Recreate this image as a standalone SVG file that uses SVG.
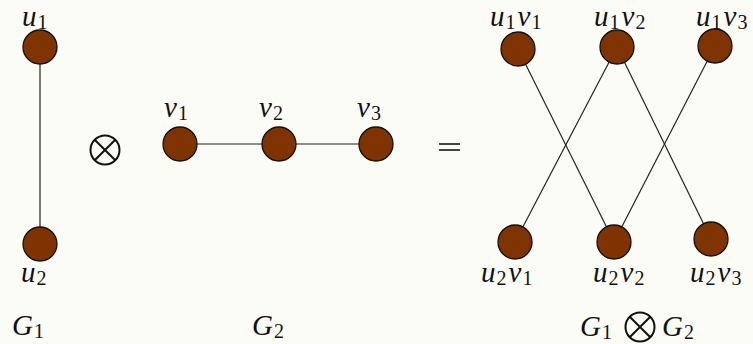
<svg xmlns="http://www.w3.org/2000/svg" width="753" height="344" viewBox="0 0 753 344">
<style>
.n{fill:#7f3300;stroke:#111;stroke-width:1.3}
.e{stroke:#222;stroke-width:1.2;fill:none}
.t{font-family:"Liberation Serif",serif;font-style:italic;font-size:29px;fill:#111}
.s{font-style:normal;font-size:20px}
.op{stroke:#111;stroke-width:2;fill:none}
</style>
<rect width="753" height="344" fill="#fcfcf7"/>
<g id="connectors">
<line class="e" x1="40" y1="47" x2="40" y2="244"/>
<line class="e" x1="180" y1="144" x2="376" y2="144"/>
<line class="e" x1="518" y1="49" x2="614" y2="242"/>
<line class="e" x1="617" y1="47" x2="515" y2="242"/>
<line class="e" x1="617" y1="47" x2="711" y2="239"/>
<line class="e" x1="715" y1="46" x2="614" y2="242"/>
</g>
<g id="u1"><circle class="n" cx="40" cy="47" r="17"/><text class="t" x="22" y="26">u<tspan class="s" dx="1" dy="3">1</tspan></text></g>
<g id="u2"><circle class="n" cx="40" cy="244" r="17"/><text class="t" x="21" y="282">u<tspan class="s" dx="1" dy="3">2</tspan></text></g>
<g id="v1"><circle class="n" cx="180" cy="144" r="17"/><text class="t" x="164" y="117">v<tspan class="s" dx="1" dy="3">1</tspan></text></g>
<g id="v2"><circle class="n" cx="279" cy="144" r="17"/><text class="t" x="259" y="117">v<tspan class="s" dx="1" dy="3">2</tspan></text></g>
<g id="v3"><circle class="n" cx="376" cy="144" r="17"/><text class="t" x="357" y="117">v<tspan class="s" dx="1" dy="3">3</tspan></text></g>
<g id="u1v1"><circle class="n" cx="518" cy="49" r="17"/><text class="t" x="490" y="26">u<tspan class="s" dx="1" dy="3">1</tspan><tspan dx="2" dy="-3">v</tspan><tspan class="s" dx="1" dy="3">1</tspan></text></g>
<g id="u1v2"><circle class="n" cx="617" cy="47" r="17"/><text class="t" x="594" y="26">u<tspan class="s" dx="1" dy="3">1</tspan><tspan dx="2" dy="-3">v</tspan><tspan class="s" dx="1" dy="3">2</tspan></text></g>
<g id="u1v3"><circle class="n" cx="715" cy="46" r="17"/><text class="t" x="696" y="26">u<tspan class="s" dx="1" dy="3">1</tspan><tspan dx="2" dy="-3">v</tspan><tspan class="s" dx="1" dy="3">3</tspan></text></g>
<g id="u2v1"><circle class="n" cx="515" cy="242" r="17"/><text class="t" x="481" y="282">u<tspan class="s" dx="1" dy="3">2</tspan><tspan dx="2" dy="-3">v</tspan><tspan class="s" dx="1" dy="3">1</tspan></text></g>
<g id="u2v2"><circle class="n" cx="614" cy="242" r="17"/><text class="t" x="593" y="282">u<tspan class="s" dx="1" dy="3">2</tspan><tspan dx="2" dy="-3">v</tspan><tspan class="s" dx="1" dy="3">2</tspan></text></g>
<g id="u2v3"><circle class="n" cx="711" cy="239" r="17"/><text class="t" x="690" y="282">u<tspan class="s" dx="1" dy="3">2</tspan><tspan dx="2" dy="-3">v</tspan><tspan class="s" dx="1" dy="3">3</tspan></text></g>
<g id="otimes1"><circle class="op" cx="105" cy="150" r="14.5"/><path class="op" d="M94.7 139.7L115.3 160.3M115.3 139.7L94.7 160.3"/></g>
<g id="equals"><path stroke="#444" stroke-width="2" d="M439 144H460M439 150H460"/></g>
<g id="labels">
<text class="t" x="12" y="335">G<tspan class="s" dx="1" dy="3">1</tspan></text>
<text class="t" x="252" y="335">G<tspan class="s" dx="1" dy="3">2</tspan></text>
<text class="t" x="580" y="336">G<tspan class="s" dx="1" dy="3">1</tspan></text>
<circle class="op" cx="640" cy="327" r="14.5"/><path class="op" d="M629.7 316.7L650.3 337.3M650.3 316.7L629.7 337.3"/>
<text class="t" x="662" y="336">G<tspan class="s" dx="1" dy="3">2</tspan></text>
</g>
</svg>
